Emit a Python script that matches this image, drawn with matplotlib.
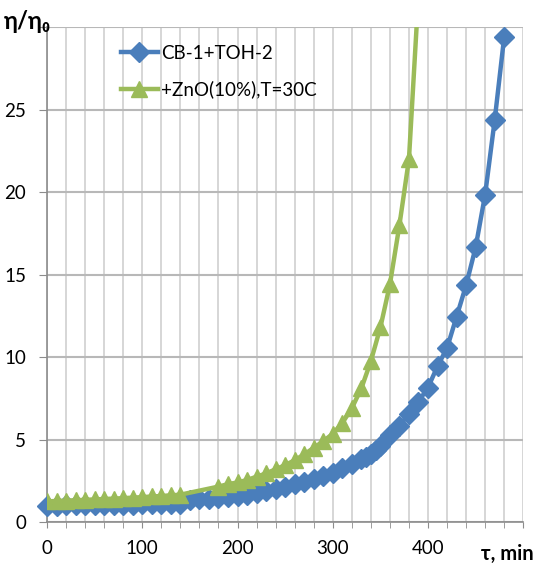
import matplotlib
matplotlib.use("Agg")
import matplotlib.pyplot as plt
from matplotlib.ticker import MultipleLocator

plt.rcParams['font.family'] = ['Lato', 'DejaVu Sans']

# CB-1+TOH-2
t_blue = [0, 10, 20, 30, 40, 50, 60, 70, 80, 90, 100, 110, 120, 130, 140,
          150, 160, 170, 180, 190, 200, 210, 220, 230, 240, 250, 260, 270,
          280, 290, 300, 310, 320, 330, 335, 340, 345, 350, 360, 370, 380,
          390, 400, 410, 420, 430, 440, 450, 460, 470, 480]
eta_blue = [1.00, 1.00, 1.01, 1.01, 1.02, 1.02, 1.03, 1.04, 1.05, 1.06, 1.07,
            1.08, 1.09, 1.10, 1.12, 1.35, 1.38, 1.42, 1.47, 1.52, 1.58, 1.65,
            1.75, 1.88, 2.00, 2.15, 2.30, 2.45, 2.60, 2.80, 3.00, 3.25, 3.50,
            3.80, 3.95, 4.15, 4.35, 4.60, 5.25, 5.85, 6.55, 7.30, 8.15, 9.45,
            10.55, 12.45, 14.35, 16.65, 19.85, 24.35, 29.40]

# +ZnO(10%),T=30C
t_green = [0, 10, 20, 30, 40, 50, 60, 70, 80, 90, 100, 110, 120, 130, 140,
           180, 190, 200, 210, 220, 230, 240, 250, 260, 270, 280, 290, 300,
           310, 320, 330, 340, 350, 360, 370, 380, 390]
eta_green = [1.25, 1.28, 1.30, 1.32, 1.35, 1.37, 1.40, 1.42, 1.45, 1.48, 1.51,
             1.55, 1.58, 1.62, 1.66, 2.15, 2.30, 2.40, 2.55, 2.75, 2.95, 3.20,
             3.45, 3.75, 4.10, 4.50, 4.90, 5.35, 6.00, 6.90, 8.10, 9.75,
             11.80, 14.40, 18.00, 22.00, 32.00]

labels = ["CB-1+TOH-2", "+ZnO(10%),T=30C"]

fig = plt.figure(figsize=(5.35, 5.65), dpi=100)
ax = fig.add_axes([0.088, 0.076, 0.890, 0.876])

ax.plot(t_blue, eta_blue, color="#4a7ebb", lw=3.2, marker="D", ms=10.5,
        label=labels[0], zorder=3, clip_on=False)
ax.plot(t_green, eta_green, color="#9bbb59", lw=3.2, marker="^", ms=12,
        label=labels[1], zorder=4)

ax.set_xlim(0, 500)
ax.set_ylim(0, 30)
ax.set_xticks(range(0, 501, 100))
ax.set_xticklabels(["0", "100", "200", "300", "400", ""])
ax.xaxis.set_minor_locator(MultipleLocator(20))
ax.set_yticks(range(0, 31, 5))
ax.set_yticklabels(["0", "5", "10", "15", "20", "25", ""])

ax.grid(True, axis="x", which="both", color="#d0d0d0", lw=1.2)
ax.grid(True, axis="y", which="major", color="#b8b8b8", lw=1.5)
ax.set_axisbelow(True)

for s in ["top", "right"]:
    ax.spines[s].set_visible(False)
for s in ["left", "bottom"]:
    ax.spines[s].set_color("#8c8c8c")
    ax.spines[s].set_linewidth(1.2)

ax.tick_params(axis="both", which="both", color="#8c8c8c", labelsize=13.5,
               pad=9, length=4)
ax.tick_params(axis="y", length=6)

ax.legend(loc="upper left", bbox_to_anchor=(0.12, 0.998), frameon=False,
          fontsize=13.5, handlelength=1.95, handletextpad=0.2, labelspacing=1.0,
          numpoints=1)

fig.text(0.008, 0.962, "η/η₀", fontsize=17, fontweight="bold", va="center")
fig.text(0.998, 0.02, "τ, min", fontsize=14.5, fontweight="bold", ha="right",
         va="center")

fig.savefig("out.png", dpi=100)
